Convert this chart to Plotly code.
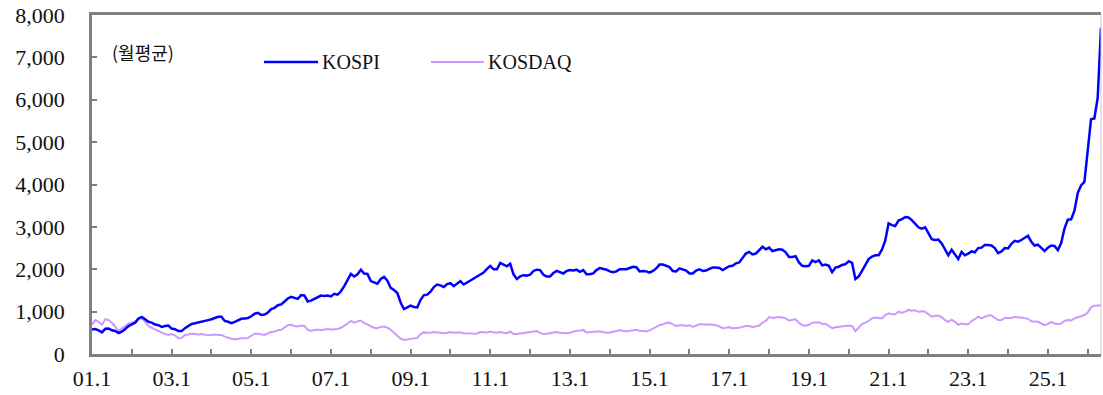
import plotly.graph_objects as go

# Monthly averages, 2001.1 - 2026.5
kospi_by_year = {
    2001: [575, 590, 555, 510, 595, 600, 560, 545, 495, 525, 590, 660],
    2002: [700, 740, 840, 875, 820, 760, 740, 695, 680, 640, 660, 670],
    2003: [600, 585, 540, 540, 610, 660, 710, 725, 740, 760, 780, 800],
    2004: [820, 850, 880, 880, 780, 760, 730, 760, 800, 830, 840, 850],
    2005: [890, 950, 970, 920, 930, 980, 1060, 1090, 1150, 1170, 1240, 1310],
    2006: [1350, 1330, 1300, 1390, 1380, 1240, 1260, 1300, 1340, 1380, 1370, 1380],
    2007: [1360, 1420, 1400, 1480, 1600, 1740, 1890, 1830, 1880, 1990, 1900, 1890],
    2008: [1720, 1690, 1660, 1770, 1820, 1730, 1560, 1510, 1440, 1210, 1060, 1100],
    2009: [1140, 1110, 1100, 1280, 1390, 1400, 1470, 1580, 1640, 1620, 1580, 1650],
    2010: [1670, 1600, 1660, 1720, 1640, 1690, 1740, 1770, 1820, 1880, 1920, 2010],
    2011: [2080, 2000, 2000, 2150, 2110, 2070, 2130, 1880, 1770, 1830, 1860, 1850],
    2012: [1870, 1960, 1990, 1980, 1870, 1830, 1830, 1910, 1960, 1930, 1900, 1960],
    2013: [1980, 1970, 1990, 1940, 1980, 1880, 1880, 1900, 1980, 2030, 2010, 1990],
    2014: [1950, 1930, 1950, 2000, 2000, 2000, 2030, 2060, 2050, 1950, 1960, 1950],
    2015: [1920, 1960, 2020, 2110, 2110, 2070, 2050, 1960, 1950, 2020, 2000, 1970],
    2016: [1900, 1900, 1970, 2000, 1960, 1970, 2010, 2040, 2040, 2030, 1980, 2020],
    2017: [2070, 2080, 2140, 2160, 2280, 2370, 2410, 2350, 2370, 2460, 2530, 2470],
    2018: [2510, 2430, 2450, 2470, 2460, 2400, 2290, 2290, 2310, 2160, 2080, 2070],
    2019: [2080, 2210, 2170, 2210, 2090, 2110, 2080, 1930, 2040, 2060, 2100, 2120],
    2020: [2190, 2150, 1770, 1830, 1960, 2120, 2240, 2300, 2330, 2330, 2460, 2680],
    2021: [3080, 3040, 3020, 3150, 3180, 3230, 3220, 3160, 3080, 2990, 2960, 2990],
    2022: [2850, 2710, 2690, 2700, 2610, 2450, 2330, 2460, 2350, 2240, 2410, 2330],
    2023: [2370, 2420, 2400, 2500, 2510, 2570, 2570, 2560, 2500, 2380, 2420, 2500],
    2024: [2490, 2600, 2670, 2650, 2690, 2740, 2790, 2650, 2560, 2580, 2500, 2430],
    2025: [2510, 2560, 2550, 2450, 2620, 2960, 3170, 3180, 3380, 3800, 3980, 4060],
    2026: [4800, 5540, 5560, 6040, 7700],
}

kosdaq_by_year = {
    2001: [690, 800, 760, 690, 820, 800, 730, 650, 540, 600, 680, 720],
    2002: [740, 770, 820, 850, 760, 660, 620, 580, 530, 500, 470, 450],
    2003: [470, 440, 370, 380, 450, 460, 480, 470, 460, 470, 450, 440],
    2004: [450, 460, 450, 450, 410, 380, 360, 340, 360, 370, 370, 380],
    2005: [430, 480, 480, 460, 450, 490, 520, 530, 560, 570, 620, 680],
    2006: [690, 660, 650, 670, 660, 570, 550, 570, 580, 560, 580, 590],
    2007: [580, 580, 590, 620, 660, 720, 780, 740, 770, 790, 730, 700],
    2008: [650, 620, 610, 640, 650, 620, 570, 500, 440, 360, 330, 340],
    2009: [350, 360, 380, 470, 510, 500, 500, 520, 510, 510, 490, 500],
    2010: [520, 500, 500, 510, 490, 490, 480, 480, 480, 520, 510, 510],
    2011: [530, 510, 510, 520, 500, 490, 530, 470, 470, 480, 490, 510],
    2012: [520, 520, 540, 500, 470, 480, 490, 510, 520, 500, 490, 490],
    2013: [500, 520, 550, 550, 570, 510, 520, 530, 530, 530, 510, 500],
    2014: [510, 530, 540, 560, 550, 530, 550, 560, 570, 550, 540, 530],
    2015: [560, 600, 630, 680, 700, 730, 740, 690, 660, 680, 680, 660],
    2016: [680, 640, 680, 700, 700, 690, 700, 690, 680, 650, 610, 620],
    2017: [630, 610, 610, 620, 640, 660, 660, 640, 650, 670, 740, 780],
    2018: [870, 850, 860, 870, 860, 840, 790, 800, 820, 740, 680, 670],
    2019: [690, 740, 740, 750, 710, 710, 660, 610, 630, 640, 650, 650],
    2020: [670, 660, 540, 620, 710, 740, 780, 840, 860, 850, 840, 920],
    2021: [960, 940, 940, 1000, 970, 1000, 1040, 1020, 1030, 1000, 1010, 1000],
    2022: [930, 880, 900, 900, 870, 800, 760, 810, 760, 690, 720, 700],
    2023: [700, 780, 820, 880, 840, 880, 910, 910, 850, 800, 800, 850],
    2024: [850, 850, 880, 860, 860, 850, 830, 770, 760, 760, 720, 680],
    2025: [710, 760, 720, 710, 720, 780, 800, 790, 840, 870, 900, 920],
    2026: [980, 1100, 1140, 1150, 1150],
}

years = list(range(2001, 2027))
tick_years = list(range(2001, 2027))
tick_labels = [f"{y % 100:02d}.1" if (y - 2001) % 2 == 0 else "" for y in tick_years]
y_ticks = [0, 1000, 2000, 3000, 4000, 5000, 6000, 7000, 8000]
y_tick_labels = [f"{v:,}" for v in y_ticks]

kospi = [v for y in years for v in kospi_by_year[y]]
kosdaq = [v for y in years for v in kosdaq_by_year[y]]
months = list(range(len(kospi)))
tick_vals = [(y - 2001) * 12 for y in tick_years]

fig = go.Figure()
fig.add_trace(go.Scatter(x=months, y=kosdaq, mode="lines", name="KOSDAQ",
                         line=dict(color="#CC99FF", width=2), showlegend=False))
fig.add_trace(go.Scatter(x=months, y=kospi, mode="lines", name="KOSPI",
                         line=dict(color="#0000FF", width=2.5), showlegend=False))

serif = "Liberation Serif, Times New Roman, serif"

fig.update_xaxes(
    range=[0, len(kospi) - 1],
    tickmode="array", tickvals=tick_vals, ticktext=tick_labels,
    ticks="inside", ticklen=5, tickwidth=1.5, tickcolor="#808080",
    showline=True, linecolor="#808080", linewidth=2.5, mirror=True,
    showgrid=False, zeroline=False,
    tickfont=dict(family=serif, size=22, color="#111111"),
    ticklabelstandoff=3,
)
fig.update_yaxes(
    range=[0, 8000],
    tickmode="array", tickvals=y_ticks, ticktext=y_tick_labels,
    ticks="inside", ticklen=5, tickwidth=1.5, tickcolor="#808080",
    showline=True, linecolor="#808080", linewidth=2.5,
    showgrid=False, zeroline=False,
    tickfont=dict(family=serif, size=22, color="#111111"),
    ticklabelstandoff=20,
)

# right border (thin, light)
fig.add_shape(type="line", xref="paper", yref="paper", x0=1, x1=1, y0=0, y1=1,
              line=dict(color="#C8C8C8", width=1))

# legend drawn as line samples + text
legend_items = [("KOSPI", "#0000FF", 2.5, 0.1705, 0.2240),
                ("KOSDAQ", "#CC99FF", 2, 0.3360, 0.3885)]
ly = 0.8614
for name, color, w, x0, x1 in legend_items:
    fig.add_shape(type="line", xref="paper", yref="paper", x0=x0, x1=x1, y0=ly, y1=ly,
                  line=dict(color=color, width=w))
    fig.add_annotation(xref="paper", yref="paper", x=x1 + 0.002, y=ly, text=name,
                       showarrow=False, xanchor="left", yanchor="middle",
                       font=dict(family=serif, size=20, color="#111111"))

fig.add_annotation(xref="paper", yref="paper", x=0.0175, y=0.891, text="(월평균)",
                   showarrow=False, xanchor="left", yanchor="middle",
                   font=dict(family="Noto Sans CJK KR", size=18, color="#111111"))

fig.update_layout(
    width=1103, height=395,
    margin=dict(l=92, r=2, t=15, b=41),
    paper_bgcolor="white", plot_bgcolor="white",
)

fig.write_html(
    "out.html",
    config={"displayModeBar": False},
    post_script="document.body.style.margin='0';document.body.style.overflow='hidden';",
)
